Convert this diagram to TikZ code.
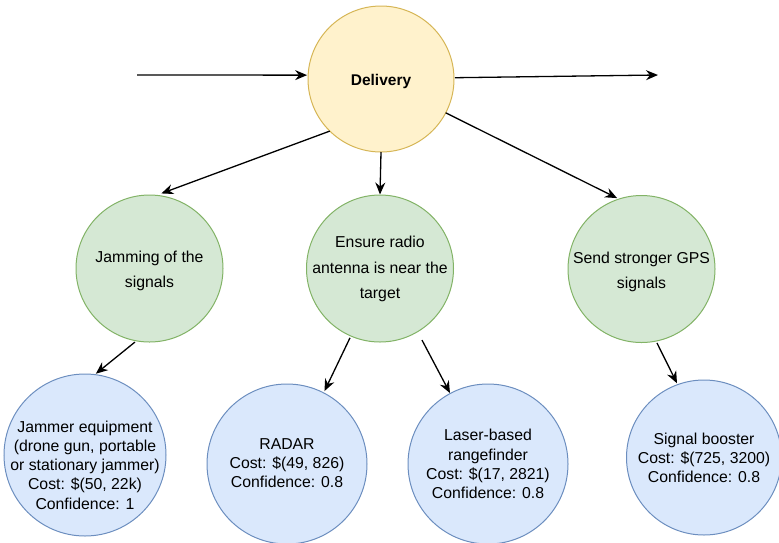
\documentclass[tikz,border=0pt]{standalone}
\usepackage{fontspec}
\setmainfont{Liberation Sans}
\usetikzlibrary{arrows.meta,calc}
\definecolor{yfill}{HTML}{FFF2CC}\definecolor{ydraw}{HTML}{D6B656}
\definecolor{gfill}{HTML}{D5E8D4}\definecolor{gdraw}{HTML}{82B366}
\definecolor{bfill}{HTML}{DAE8FC}\definecolor{bdraw}{HTML}{6C8EBF}
\begin{document}
\begin{tikzpicture}[x=1pt,y=1pt,
  ball/.style={circle, inner sep=0pt, outer sep=0pt, line width=1pt},
  goal/.style={ball, fill=yfill, draw=ydraw, minimum size=146pt},
  tactic/.style={ball, fill=gfill, draw=gdraw, minimum size=147pt},
  measure/.style={ball, fill=bfill, draw=bdraw, minimum size=160pt},
  gtext/.style={align=center, inner sep=0pt, font=\fontsize{15.8}{25.5}\selectfont},
  btext/.style={align=center, inner sep=0pt, font=\fontsize{15.8}{19.2}\selectfont},
  arr/.style={-{Stealth[length=12pt,width=10pt,inset=4pt]}, line width=1.3pt}]
\useasboundingbox (0,0) rectangle (779,-542);

% goal
\node[goal] (del) at (381,-79) {};
\node[inner sep=0pt, font=\fontsize{15.5}{18}\selectfont\bfseries] (deltext) at (381,-81) {Delivery};

% tactics
\node[tactic] (jam) at (149.5,-268.5) {};
\node[gtext] (jamtext) at (149.5,-271) {Jamming of the\\signals};
\node[tactic] (ens) at (380,-268.5) {};
\node[gtext] (enstext) at (380,-269) {Ensure radio\\antenna is near the\\target};
\node[tactic] (gps) at (641.5,-269) {};
\node[gtext] (gpstext) at (641.5,-272) {Send stronger GPS\\signals};

% measures
\node[measure, minimum size=162pt] (jammer) at (85,-455) {};
\node[btext] (jammertext) at (85,-465) {Jammer equipment\\(drone gun, portable\\or stationary jammer)\\Cost: \$(50, 22k)\\Confidence: 1};
\node[measure] (radar) at (287,-464) {};
\node[btext] (radartext) at (287,-463) {RADAR\\Cost: \$(49, 826)\\Confidence: 0.8};
\node[measure] (laser) at (488,-464) {};
\node[btext] (lasertext) at (488,-464) {Laser-based\\rangefinder\\Cost: \$(17, 2821)\\Confidence: 0.8};
\node[measure, minimum size=155pt] (boost) at (704,-457.5) {};
\node[btext] (boosttext) at (704,-458) {Signal booster\\Cost: \$(725, 3200)\\Confidence: 0.8};

% flow through the goal
\coordinate (inL) at (137,-75);
\coordinate (outR) at (658,-75);
\draw[arr] (inL) -- ($(del)+(177:74)$);
\draw[arr] ($(del)+(1:74)$) -- (outR);

% decomposition
\draw[arr] ($(del)+(225.5:73)$) -- ($(jam)+(81:76)$);
\draw[arr] ($(del)+(270:73)$) -- ($(ens)+(90:74)$);
\draw[arr] ($(del)+(332.4:73)$) -- ($(gps)+(109:75)$);
\draw[arr] ($(jam)+(258.8:75)$) -- ($(jammer)+(82.4:82)$);
\draw[arr] ($(ens)+(246.6:75.5)$) -- ($(radar)+(62.8:82)$);
\draw[arr] ($(ens)+(300.4:83)$) -- ($(laser)+(118.2:80.5)$);
\draw[arr] ($(gps)+(281.8:75.5)$) -- ($(boost)+(110:79)$);
\end{tikzpicture}
\end{document}
